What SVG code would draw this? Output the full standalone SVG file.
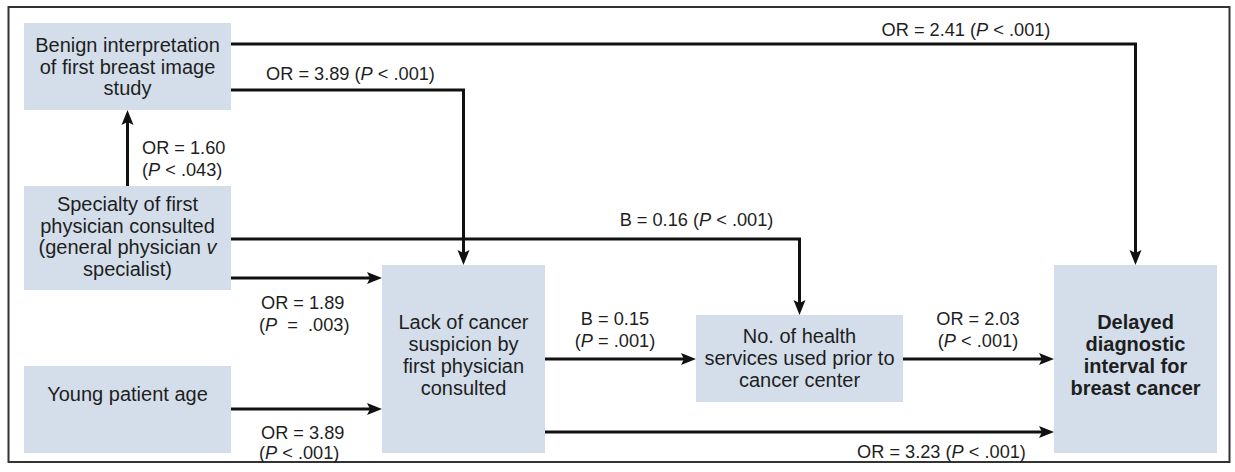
<svg xmlns="http://www.w3.org/2000/svg" width="1235" height="472" viewBox="0 0 1235 472">
<style>
.box{fill:#d4deea;}
.t{font-family:"Liberation Sans",Arial,sans-serif;font-size:20px;fill:#1e1e1e;text-anchor:middle;}
.b{font-weight:bold;}
.l{font-family:"Liberation Sans",Arial,sans-serif;font-size:18.2px;fill:#1e1e1e;}
.m{text-anchor:middle;}
.i{font-style:italic;}
.c{fill:none;stroke:#111;stroke-width:3;}
</style>
<defs>
<marker id="ah" markerUnits="userSpaceOnUse" markerWidth="16" markerHeight="13" refX="5" refY="6.5" orient="auto">
<path d="M0,0.5 L15,6.5 L0,12.5 L3,6.5 z" fill="#111"/>
</marker>
</defs>
<rect x="8.5" y="7" width="1221" height="455" fill="#fff" stroke="#333" stroke-width="2"/>

<g id="connectors">
<path class="c" d="M231,44 H1135.5 V255" marker-end="url(#ah)"/>
<path class="c" d="M231,90 H463.5 V255" marker-end="url(#ah)"/>
<path class="c" d="M127.5,186 V120" marker-end="url(#ah)"/>
<path class="c" d="M231,239 H799.5 V305" marker-end="url(#ah)"/>
<path class="c" d="M231,278 H372" marker-end="url(#ah)"/>
<path class="c" d="M231,409 H372" marker-end="url(#ah)"/>
<path class="c" d="M545,359 H686" marker-end="url(#ah)"/>
<path class="c" d="M903,359 H1044" marker-end="url(#ah)"/>
<path class="c" d="M545,432 H1044" marker-end="url(#ah)"/>
<text class="l m" x="966" y="36">OR = 2.41 (<tspan class="i">P</tspan> &lt; .001)</text>
<text class="l m" x="350.5" y="80">OR = 3.89 (<tspan class="i">P</tspan> &lt; .001)</text>
<text class="l" x="142" y="154">OR = 1.60</text>
<text class="l" x="142" y="176">(<tspan class="i">P</tspan> &lt; .043)</text>
<text class="l m" x="696.5" y="226">B = 0.16 (<tspan class="i">P</tspan> &lt; .001)</text>
<text class="l" x="261" y="309">OR = 1.89</text>
<text class="l" x="259" y="331" xml:space="preserve">(<tspan class="i">P</tspan>  =  .003)</text>
<text class="l" x="261" y="439">OR = 3.89</text>
<text class="l" x="259" y="459">(<tspan class="i">P</tspan> &lt; .001)</text>
<text class="l m" x="615" y="325">B = 0.15</text>
<text class="l m" x="615" y="347">(<tspan class="i">P</tspan> = .001)</text>
<text class="l m" x="978" y="325">OR = 2.03</text>
<text class="l m" x="978" y="347">(<tspan class="i">P</tspan> &lt; .001)</text>
<text class="l m" x="941.5" y="458">OR = 3.23 (<tspan class="i">P</tspan> &lt; .001)</text>
</g>

<g id="benign">
<rect class="box" x="24" y="23" width="207" height="87"/>
<text class="t" x="127.5" y="52">Benign interpretation</text>
<text class="t" x="127.5" y="73.5">of first breast image</text>
<text class="t" x="127.5" y="95">study</text>
</g>
<g id="specialty">
<rect class="box" x="24" y="186" width="207" height="104"/>
<text class="t" x="127.5" y="211">Specialty of first</text>
<text class="t" x="127.5" y="232.5">physician consulted</text>
<text class="t" x="127.5" y="254">(general physician <tspan class="i">v</tspan></text>
<text class="t" x="127.5" y="275.5">specialist)</text>
</g>
<g id="young">
<rect class="box" x="24" y="366" width="207" height="87"/>
<text class="t" x="127.5" y="401">Young patient age</text>
</g>
<g id="lack">
<rect class="box" x="382" y="265" width="163" height="188"/>
<text class="t" x="463.5" y="329">Lack of cancer</text>
<text class="t" x="463.5" y="351">suspicion by</text>
<text class="t" x="463.5" y="373">first physician</text>
<text class="t" x="463.5" y="395">consulted</text>
</g>
<g id="services">
<rect class="box" x="696" y="315" width="207" height="87"/>
<text class="t" x="799.5" y="343">No. of health</text>
<text class="t" x="799.5" y="365">services used prior to</text>
<text class="t" x="799.5" y="387">cancer center</text>
</g>
<g id="delayed">
<rect class="box" x="1054" y="265" width="163" height="188"/>
<text class="t b" x="1135.5" y="329">Delayed</text>
<text class="t b" x="1135.5" y="351">diagnostic</text>
<text class="t b" x="1135.5" y="373">interval for</text>
<text class="t b" x="1135.5" y="395">breast cancer</text>
</g>
</svg>
